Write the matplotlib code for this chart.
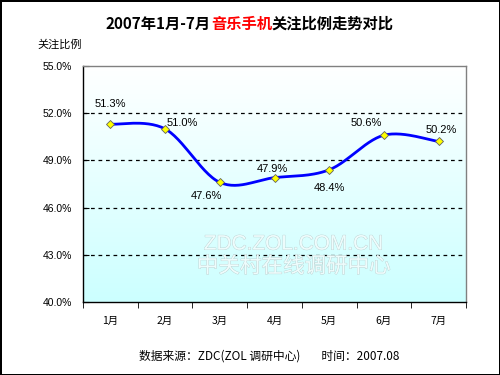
import numpy as np
import matplotlib
matplotlib.use("Agg")
import matplotlib.pyplot as plt
import matplotlib.patheffects as pe

plt.rcParams['font.family'] = ['Noto Sans CJK SC', 'DejaVu Sans']

# Data
months = ["1月", "2月", "3月", "4月", "5月", "6月", "7月"]
values = [51.3, 51.0, 47.6, 47.9, 48.4, 50.6, 50.2]
yticks = [40.0, 43.0, 46.0, 49.0, 52.0, 55.0]
# label placement: (dx points, dy points)
label_offsets = [(0, 14.4), (12.2, 4.3), (-9.4, -10), (-1.4, 6.5), (0, -13), (-13, 8.6), (2.2, 8.6)]


def smooth(xs, ys, n=30, t=1 / 6):
    # Bezier smoothing similar to spreadsheet "smoothed line"
    xs = np.asarray(xs, float)
    ys = np.asarray(ys, float)
    px, py = [], []
    for i in range(len(xs) - 1):
        x0, y0 = (xs[i - 1], ys[i - 1]) if i > 0 else (xs[i], ys[i])
        x3, y3 = (xs[i + 2], ys[i + 2]) if i + 2 < len(xs) else (xs[i + 1], ys[i + 1])
        c1x = xs[i] + (xs[i + 1] - x0) * t
        c1y = ys[i] + (ys[i + 1] - y0) * t
        c2x = xs[i + 1] - (x3 - xs[i]) * t
        c2y = ys[i + 1] - (y3 - ys[i]) * t
        s = np.linspace(0, 1, n)
        bx = (1 - s) ** 3 * xs[i] + 3 * (1 - s) ** 2 * s * c1x + 3 * (1 - s) * s ** 2 * c2x + s ** 3 * xs[i + 1]
        by = (1 - s) ** 3 * ys[i] + 3 * (1 - s) ** 2 * s * c1y + 3 * (1 - s) * s ** 2 * c2y + s ** 3 * ys[i + 1]
        px.extend(bx)
        py.extend(by)
    return np.array(px), np.array(py)


fig = plt.figure(figsize=(5, 3.75), dpi=100)
fig.patch.set_facecolor("white")
fig.patch.set_edgecolor("black")
fig.patch.set_linewidth(2)

ax = fig.add_axes([0.166, 0.195, 0.766, 0.629])

x = np.arange(len(months))
ax.set_xlim(-0.5, len(months) - 0.5)
ax.set_ylim(40, 55)

# gradient background
grad = np.linspace(1, 0, 256).reshape(-1, 1)
top = np.array([1.0, 1.0, 1.0])
bot = np.array([0.8, 1.0, 1.0])
img = grad[..., None] * top + (1 - grad[..., None]) * bot
ax.imshow(img, extent=[0, 1, 0, 1], transform=ax.transAxes, aspect="auto", zorder=0)

for yv in yticks[1:-1]:
    ax.axhline(yv, color="black", linestyle=(0, (3, 3)), linewidth=0.9, zorder=1)

# watermark
wm_fx = [pe.withStroke(linewidth=0.6, foreground="#bcd0d0")]
ax.text(0.55, 0.245, "ZDC.ZOL.COM.CN", transform=ax.transAxes, ha="center", va="center",
        fontsize=15, color="#eefcfc", zorder=1, weight="light", path_effects=wm_fx,
        family=["Liberation Sans", "DejaVu Sans"])
ax.text(0.55, 0.15, "中关村在线调研中心", transform=ax.transAxes, ha="center", va="center",
        fontsize=15.5, color="#eefcfc", zorder=1, weight="light", path_effects=wm_fx)

sx, sy = smooth(x, values)
ax.plot(sx, sy, color="#0000ff", linewidth=2, zorder=3)
ax.plot(x, values, linestyle="none", marker="D", markersize=4.5,
        markerfacecolor="#ffff00", markeredgecolor="#606060", markeredgewidth=0.6, zorder=4)

for xi, v, (dx, dy) in zip(x, values, label_offsets):
    ax.annotate(f"{v:.1f}%", (xi, v), xytext=(dx, dy), textcoords="offset points",
                ha="center", va="center", fontsize=8, family=["Liberation Sans", "DejaVu Sans"], zorder=5)

ax.set_yticks(yticks)
ax.set_yticklabels([f"{v:.1f}%" for v in yticks], fontsize=7.5,
                   family=["Liberation Sans", "DejaVu Sans"])
ax.set_xticks(x)
ax.set_xticklabels(months, fontsize=7.5)
ax.tick_params(axis="x", length=0, pad=10)
ax.set_xticks(np.arange(-0.5, len(months) + 0.5, 1), minor=True)
ax.tick_params(axis="x", which="minor", length=4, direction="out", color="black")
ax.tick_params(axis="y", length=4, direction="in", color="black", pad=8)

for side in ["top", "right"]:
    ax.spines[side].set_color("#808080")
    ax.spines[side].set_linewidth(1)
for side in ["left", "bottom"]:
    ax.spines[side].set_color("black")
    ax.spines[side].set_linewidth(1)

# title with red part
fig.canvas.draw()
r = fig.canvas.get_renderer()
title_parts = [("2007年1月-7月", "black"), ("音乐手机", "#ff0000"), ("关注比例走势对比", "black")]
widths = []
objs = []
for s, c in title_parts:
    o = fig.text(0, 0.937, s, ha="left", va="center", fontsize=11, weight="bold", color=c)
    objs.append(o)
    widths.append(o.get_window_extent(renderer=r).width)
total = sum(widths)
xpix = 500 / 2 - total / 2
for o, w in zip(objs, widths):
    o.set_x(xpix / 500)
    xpix += w

fig.text(0.074, 0.88, "关注比例", ha="left", va="center", fontsize=8)
fig.text(0.538, 0.05, "数据来源：ZDC(ZOL 调研中心)        时间：2007.08", ha="center", va="center", fontsize=8.5)

fig.savefig("out.png", dpi=100, edgecolor=fig.get_edgecolor())
